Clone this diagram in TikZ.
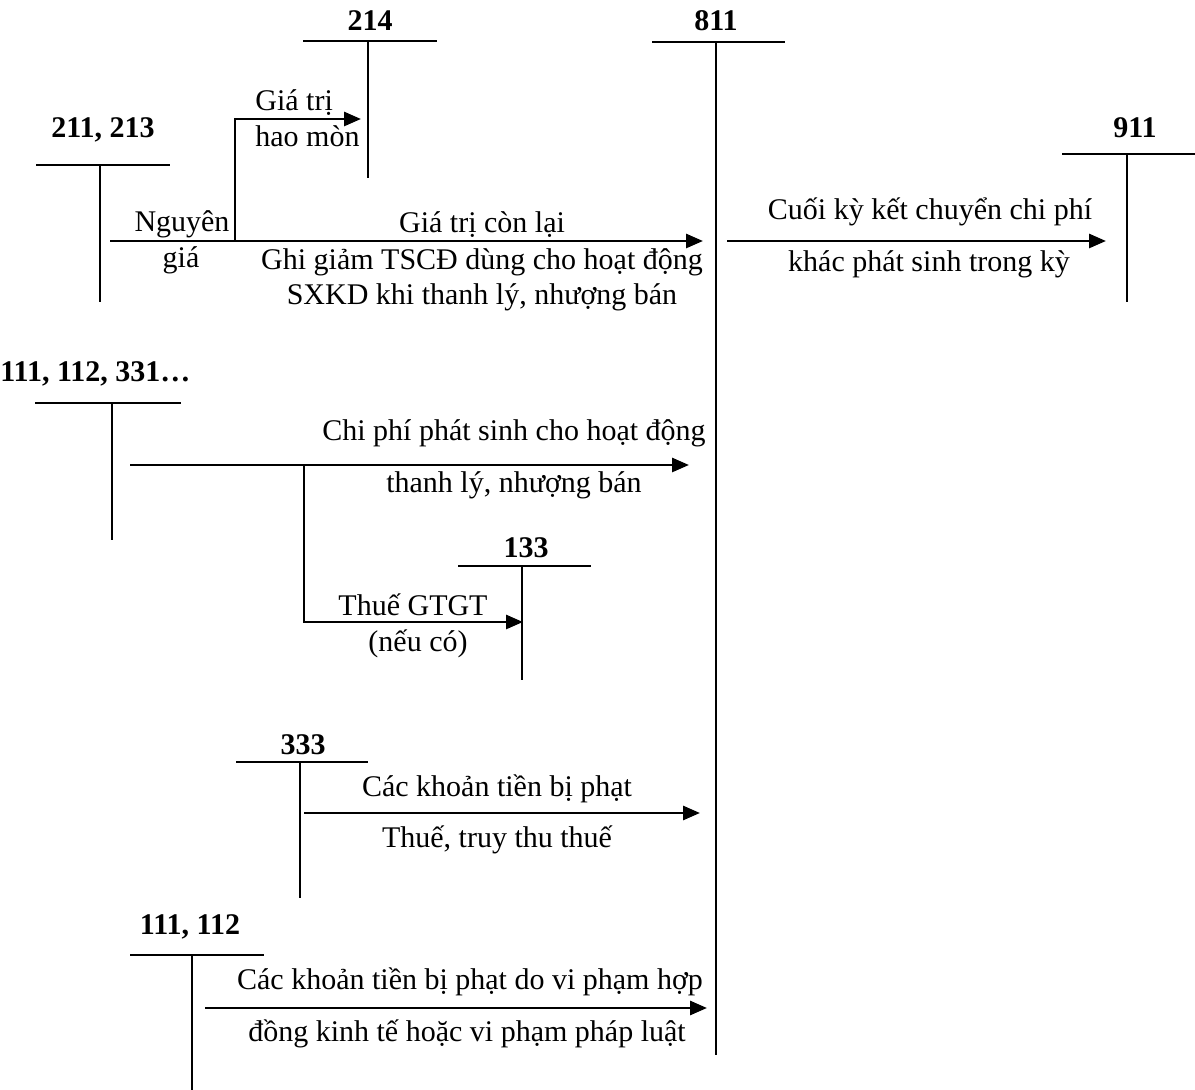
\documentclass[tikz,border=0pt]{standalone}
\usepackage{fontspec}
\setmainfont{Liberation Serif}
\usetikzlibrary{arrows.meta}
\begin{document}
\begin{tikzpicture}[x=0.5pt,y=-0.5pt,
  tline/.style={line width=0.9pt},
  flow/.style={line width=1.4pt,-{Triangle[length=8.5pt,width=7pt]}},
  acc/.style={font=\fontsize{15}{18}\selectfont\bfseries,anchor=base,inner sep=0pt},
  lbl/.style={font=\fontsize{15}{18}\selectfont,anchor=base,inner sep=0pt},
  lblw/.style={font=\fontsize{15}{18}\selectfont,anchor=base west,inner sep=0pt}]
\useasboundingbox (0,0) rectangle (1195,1090);
% ---- T accounts ----
% 214
\node[acc] (n214) at (370,31) {214};
\coordinate (h214a) at (303,41); \coordinate (h214b) at (437,41);
\coordinate (v214a) at (368,41); \coordinate (v214b) at (368,178);
\draw[tline] (h214a) -- (h214b); \draw[tline] (v214a) -- (v214b);
% 811
\node[acc] (n811) at (716,31) {811};
\coordinate (h811a) at (652,42); \coordinate (h811b) at (785,42);
\coordinate (v811a) at (716,42); \coordinate (v811b) at (716,1055);
\draw[tline] (h811a) -- (h811b); \draw[tline] (v811a) -- (v811b);
% 211, 213
\node[acc] (n211) at (103,138) {211, 213};
\coordinate (h211a) at (36,165); \coordinate (h211b) at (170,165);
\coordinate (v211a) at (100,165); \coordinate (v211b) at (100,302);
\draw[tline] (h211a) -- (h211b); \draw[tline] (v211a) -- (v211b);
% 911
\node[acc] (n911) at (1135,138) {911};
\coordinate (h911a) at (1062,154); \coordinate (h911b) at (1195,154);
\coordinate (v911a) at (1127,154); \coordinate (v911b) at (1127,302);
\draw[tline] (h911a) -- (h911b); \draw[tline] (v911a) -- (v911b);
% 111, 112, 331...
\node[acc,anchor=base west] (n111a) at (0,382) {111, 112, 331…};
\coordinate (h111a) at (35,403); \coordinate (h111b) at (181,403);
\coordinate (v111a) at (112,403); \coordinate (v111b) at (112,540);
\draw[tline] (h111a) -- (h111b); \draw[tline] (v111a) -- (v111b);
% 133
\node[acc] (n133) at (526,558) {133};
\coordinate (h133a) at (458,566); \coordinate (h133b) at (591,566);
\coordinate (v133a) at (522,566); \coordinate (v133b) at (522,680);
\draw[tline] (h133a) -- (h133b); \draw[tline] (v133a) -- (v133b);
% 333
\node[acc] (n333) at (303,755) {333};
\coordinate (h333a) at (236,762); \coordinate (h333b) at (368,762);
\coordinate (v333a) at (300,762); \coordinate (v333b) at (300,898);
\draw[tline] (h333a) -- (h333b); \draw[tline] (v333a) -- (v333b);
% 111, 112
\node[acc] (n111b) at (190,935) {111, 112};
\coordinate (h111ba) at (130,955); \coordinate (h111bb) at (264,955);
\coordinate (v111ba) at (192,955); \coordinate (v111bb) at (192,1090);
\draw[tline] (h111ba) -- (h111bb); \draw[tline] (v111ba) -- (v111bb);
% ---- flows ----
\coordinate (f1s) at (110,241); \coordinate (f1e) at (703,241);
\coordinate (f1b) at (235,241); \coordinate (f1c) at (235,119); \coordinate (f1d) at (361,119);
\draw[flow] (f1s) -- (f1e);
\draw[flow] (f1b) -- (f1c) -- (f1d);
\node[lblw] (l1) at (255,111) {Giá trị};
\node[lblw] (l2) at (255,147) {hao mòn};
\node[lbl] (l3) at (182,232) {Nguyên};
\node[lbl] (l4) at (181,268) {giá};
\node[lbl] (l5) at (482,233) {Giá trị còn lại};
\node[lbl] (l6) at (482,270) {Ghi giảm TSCĐ dùng cho hoạt động};
\node[lbl] (l7) at (482,305) {SXKD khi thanh lý, nhượng bán};
\coordinate (f2s) at (727,241); \coordinate (f2e) at (1106,241);
\draw[flow] (f2s) -- (f2e);
\node[lbl] (l8) at (930,220) {Cuối kỳ kết chuyển chi phí};
\node[lbl] (l9) at (929,272) {khác phát sinh trong kỳ};
\coordinate (f3s) at (130,465); \coordinate (f3e) at (689,465);
\coordinate (f3b) at (304,465); \coordinate (f3c) at (304,622); \coordinate (f3d) at (523,622);
\draw[flow] (f3s) -- (f3e);
\draw[flow] (f3b) -- (f3c) -- (f3d);
\node[lbl] (l10) at (514,441) {Chi phí phát sinh cho hoạt động};
\node[lbl] (l11) at (514,493) {thanh lý, nhượng bán};
\node[lbl] (l12) at (413,616) {Thuế GTGT};
\node[lbl] (l13) at (418,652) {(nếu có)};
\coordinate (f4s) at (304,813); \coordinate (f4e) at (700,813);
\draw[flow] (f4s) -- (f4e);
\node[lbl] (l14) at (497,797) {Các khoản tiền bị phạt};
\node[lbl] (l15) at (497,848) {Thuế, truy thu thuế};
\coordinate (f5s) at (205,1008); \coordinate (f5e) at (707,1008);
\draw[flow] (f5s) -- (f5e);
\node[lbl] (l16) at (470,989) {Các khoản tiền bị phạt do vi phạm hợp};
\node[lbl] (l17) at (467,1041) {đồng kinh tế hoặc vi phạm pháp luật};
\end{tikzpicture}
\end{document}
